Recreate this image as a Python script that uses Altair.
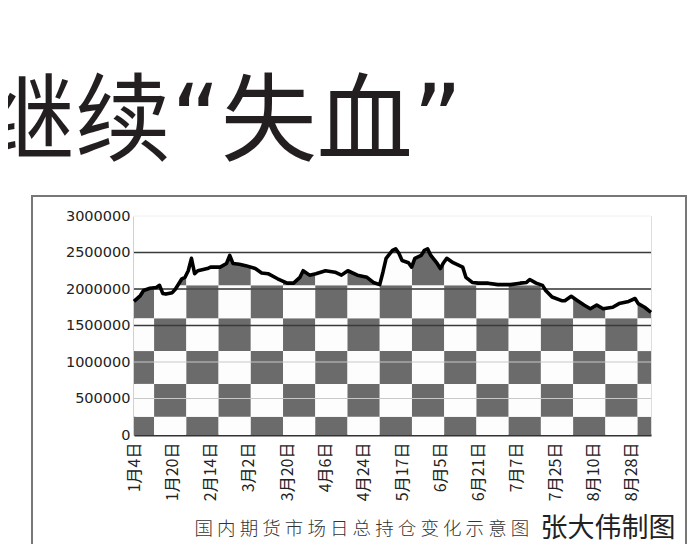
import json
import altair as alt
import pandas as pd

# ---- data ----
day_idx = [0, 2, 3, 5, 7, 8, 9, 10, 12, 13, 15, 16, 17, 18, 19, 20, 23, 24, 27, 29,
           30, 31, 33, 35, 38, 40, 42, 45, 48, 50, 52, 53, 55, 57, 60, 63, 65, 67, 70, 73,
           75, 77, 78, 79, 81, 82, 83, 84, 86, 87, 88, 90, 91, 92, 93, 95, 96, 97, 98, 100,
           103, 104, 106, 108, 111, 114, 118, 121, 123, 124, 126, 128, 129, 131, 134, 135, 137, 139, 141, 143,
           145, 147, 150, 152, 155, 157, 158, 160, 162]
open_interest = [1830000, 1910000, 1980000, 2010000, 2020000, 2050000, 1940000, 1930000, 1950000, 2000000,
                 2140000, 2160000, 2250000, 2420000, 2210000, 2250000, 2280000, 2300000, 2300000, 2350000,
                 2460000, 2350000, 2340000, 2320000, 2280000, 2220000, 2210000, 2140000, 2080000, 2080000,
                 2160000, 2250000, 2190000, 2210000, 2250000, 2230000, 2190000, 2250000, 2190000, 2160000,
                 2090000, 2060000, 2230000, 2420000, 2530000, 2550000, 2490000, 2390000, 2360000, 2300000,
                 2420000, 2460000, 2530000, 2550000, 2460000, 2350000, 2280000, 2360000, 2420000, 2360000,
                 2300000, 2160000, 2090000, 2080000, 2080000, 2060000, 2060000, 2080000, 2090000, 2130000,
                 2080000, 2050000, 1980000, 1890000, 1840000, 1840000, 1900000, 1840000, 1780000, 1730000,
                 1780000, 1730000, 1750000, 1800000, 1830000, 1870000, 1800000, 1750000, 1680000]

tick_idx = [0, 12, 24, 36, 48, 60, 72, 84, 96, 108, 120, 132, 144, 156]
tick_labels = ["1月4日", "1月20日", "2月14日", "3月2日", "3月20日", "4月6日", "4月24日",
               "5月17日", "6月5日", "6月21日", "7月7日", "7月25日", "8月10日", "8月28日"]
y_ticks = [0, 500000, 1000000, 1500000, 2000000, 2500000, 3000000]
grid_values = [500000, 1000000, 1500000, 2000000, 2500000, 3000000]

# checkerboard edges (x in trading-day index, y in value)
col_edges = [0, 6.3, 16.4, 26.5, 36.6, 46.7, 56.8, 66.9, 77.0, 87.1, 97.2, 107.3,
             117.4, 127.5, 137.6, 147.7, 157.8, 162]
row_edges = [0, 250000, 700000, 1150000, 1600000, 2050000, 2500000, 3000000]

title_text = "继续“失血”"
caption_left = "国 内 期 货 市 场 日 总 持 仓 变 化 示 意 图"
caption_right = "张大伟制图"

# ---- tables ----
series = pd.DataFrame({"idx": day_idx, "v": open_interest})
cells = []
for r in range(len(row_edges) - 1):
    for c in range(len(col_edges) - 1):
        cells.append({"x": col_edges[c], "x2": col_edges[c + 1],
                      "y": row_edges[r], "y2": row_edges[r + 1],
                      "d": 1 if (r + c) % 2 == 0 else 0})
cells = pd.DataFrame(cells)
grid = pd.DataFrame({"g": grid_values})

W, H = 517, 219
xscale = alt.Scale(domain=[0, 162], nice=False, zero=False)
yscale = alt.Scale(domain=[0, 3000000], nice=False)
label_expr = json.dumps(tick_labels, ensure_ascii=False) + "[round(datum.value / 12)]"

x_axis = alt.Axis(values=tick_idx, labelExpr=label_expr, labelAngle=-90, labelFont="Noto Sans CJK SC",
                  labelFontSize=16, labelColor="#222", ticks=False, labelPadding=7, grid=False,
                  domainColor="#333", domainWidth=2, labelOverlap=False, labelBound=False,
                  labelFlush=False,
                  title=caption_left, titleFont="Noto Sans CJK SC", titleFontSize=18.5,
                  titleFontWeight=300, titleColor="#333", titleAlign="left", titleBaseline="middle",
                  titleAnchor="start", titleX=60, titleY=93, titleAngle=0)
y_axis = alt.Axis(values=y_ticks, format="d", labelFont="DejaVu Sans", labelFontSize=14.5,
                  labelColor="#222", ticks=False, labelPadding=4, grid=False, domainColor="#444",
                  domainWidth=1.5, labelOverlap=False,
                  title=caption_right, titleFont="Noto Sans CJK SC", titleFontSize=27,
                  titleFontWeight="normal", titleColor="#222", titleAngle=0, titleAlign="left",
                  titleBaseline="middle", titleAnchor="start", titleX=406, titleY=312)

checker = alt.Chart(cells).mark_rect().encode(
    x=alt.X("x:Q", scale=xscale, axis=x_axis),
    x2="x2:Q",
    y=alt.Y("y:Q", scale=yscale, axis=y_axis),
    y2="y2:Q",
    color=alt.condition("datum.d == 1", alt.value("#6b6b6b"), alt.value("#fdfdfd")),
)

cover = alt.Chart(series).mark_area(color="#ffffff", opacity=1).encode(
    x=alt.X("idx:Q", scale=xscale, axis=x_axis),
    y=alt.Y("v:Q", scale=yscale, axis=y_axis),
    y2=alt.datum(3000000),
)

gridlines = alt.Chart(grid).mark_rule().encode(
    y=alt.Y("g:Q", scale=yscale, axis=y_axis),
    color=alt.condition("datum.g >= 3000000", alt.value("#f0f0f0"),
                        alt.value("#c8c8c8")),
    strokeWidth=alt.value(1),
)
gridlines_dark = alt.Chart(grid).transform_filter(
    "datum.g >= 1500000 && datum.g <= 2500000"
).mark_rule(color="#3a3a3a", strokeWidth=1.6).encode(
    y=alt.Y("g:Q", scale=yscale, axis=y_axis),
)

line = alt.Chart(series).mark_line(color="#000000", strokeWidth=3.6, strokeJoin="round").encode(
    x=alt.X("idx:Q", scale=xscale, axis=x_axis),
    y=alt.Y("v:Q", scale=yscale, axis=y_axis),
)

box = alt.Chart(pd.DataFrame({"a": [0]})).mark_rect(
    filled=False, stroke="#777777", strokeWidth=2, clip=False
).encode(
    x=alt.value(-102), x2=alt.value(552), y=alt.value(-20), y2=alt.value(360)
)

chart = alt.layer(checker, cover, gridlines, gridlines_dark, line, box).properties(
    width=W, height=H,
    title=alt.TitleParams(title_text, font="DejaVu Sans, Noto Sans CJK SC", fontSize=96,
                          fontWeight="normal", color="#231f20", anchor="start", frame="group",
                          dx=-155, dy=108, offset=54, baseline="alphabetic"),
    autosize=alt.AutoSizeParams(type="none"),
    padding={"left": 126, "top": 208, "right": 36, "bottom": 109},
).configure_view(fill="#fafafa", strokeWidth=0).configure(background="#ffffff")

chart.save("out.html", embed_options={"renderer": "svg", "actions": False})
